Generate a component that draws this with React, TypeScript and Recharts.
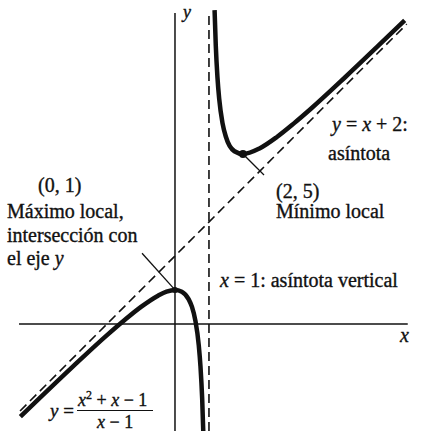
import { LineChart, Line, XAxis, YAxis, ReferenceLine, ReferenceDot } from 'recharts'

// points: branch left of x = 1
const leftX = [-4.55, -4, -3, -2, -1.5, -1, -0.5, -0.25, 0, 0.2, 0.4, 0.5, 0.6, 0.7, 0.75, 0.8, 0.84]
const leftY = [-2.73, -2.2, -1.25, -0.33, 0.1, 0.5, 0.83, 0.95, 1, 0.95, 0.73, 0.5, 0.1, -0.63, -1.25, -2.2, -3.41]

// branch right of x = 1
const rightX = [1.165, 1.2, 1.25, 1.3, 1.4, 1.5, 1.75, 2, 2.5, 3, 3.5, 4, 5, 6, 6.76]
const rightY = [9.23, 8.2, 7.25, 6.63, 5.9, 5.5, 5.08, 5, 5.17, 5.5, 5.9, 6.33, 7.25, 8.2, 8.93]

// marked points: local max and local min
const maxPoint = { x: 0, y: 1 }
const minPoint = { x: 2, y: 5 }

// asymptotes
const verticalAsymptote = 1
const slantSlope = 1
const slantIntercept = 2

const xDomain = [-5.15, 7.24]
const yDomain = [-3.15, 9.53]
const axisXRange = [-4.59, 6.85]
const axisYRange = [-3.15, 9.15]

const leftData = leftX.map((x, i) => ({ x, y: leftY[i] }))
const rightData = rightX.map((x, i) => ({ x, y: rightY[i] }))

const ink = '#111'
const serif = '"Times New Roman", "Liberation Serif", "DejaVu Serif", serif'

// html text placed by its baseline
function T({ x, y, size = 20, children }: { x: number; y: number; size?: number; children: any }) {
  return (
    <div
      style={{
        position: 'absolute',
        left: x,
        top: y - 0.8375 * size,
        fontFamily: serif,
        fontSize: size,
        lineHeight: `${size}px`,
        color: ink,
        whiteSpace: 'nowrap',
        WebkitTextStroke: '0.35px #111',
      }}
    >
      {children}
    </div>
  )
}

export default function App() {
  const slantStart = axisXRange[0] + 0.03
  const slantEnd = 6.82
  return (
    <div style={{ position: 'absolute', left: 0, top: 0, width: 421, height: 431, background: '#fff', fontFamily: serif }}>
      <LineChart width={421} height={431} margin={{ top: 0, right: 0, bottom: 0, left: 0 }}>
        <XAxis type="number" dataKey="x" domain={xDomain} allowDataOverflow hide />
        <YAxis type="number" dataKey="y" domain={yDomain} allowDataOverflow hide />

        {/* axes */}
        <ReferenceLine segment={[{ x: axisXRange[0], y: 0 }, { x: axisXRange[1], y: 0 }]} stroke={ink} strokeWidth={1.5} />
        <ReferenceLine segment={[{ x: 0, y: axisYRange[0] }, { x: 0, y: axisYRange[1] }]} stroke={ink} strokeWidth={1.5} />

        {/* asymptotes */}
        <ReferenceLine
          segment={[{ x: verticalAsymptote, y: axisYRange[0] }, { x: verticalAsymptote, y: axisYRange[1] }]}
          stroke={ink}
          strokeWidth={1.6}
          strokeDasharray="9 5"
        />
        <ReferenceLine
          segment={[
            { x: slantStart, y: slantSlope * slantStart + slantIntercept },
            { x: slantEnd, y: slantSlope * slantEnd + slantIntercept },
          ]}
          stroke={ink}
          strokeWidth={1.6}
          strokeDasharray="9 5"
        />

        {/* pointer lines */}
        <ReferenceLine segment={[{ x: -0.97, y: 2.08 }, { x: maxPoint.x, y: maxPoint.y }]} stroke={ink} strokeWidth={1.3} />
        <ReferenceLine segment={[{ x: minPoint.x, y: minPoint.y }, { x: 2.62, y: 4.38 }]} stroke={ink} strokeWidth={1.3} />

        <Line data={leftData} dataKey="y" type="monotone" stroke={ink} strokeWidth={4.5} dot={false} activeDot={false} isAnimationActive={false} />
        <Line data={rightData} dataKey="y" type="monotone" stroke={ink} strokeWidth={4.5} dot={false} activeDot={false} isAnimationActive={false} />

        <ReferenceDot x={maxPoint.x} y={maxPoint.y} r={3} fill={ink} stroke="none" />
        <ReferenceDot x={minPoint.x} y={minPoint.y} r={4} fill={ink} stroke="none" />
      </LineChart>

      {/* annotations */}
      <T x={183} y={18} size={18}><i>y</i></T>
      <T x={400} y={342}><i>x</i></T>

      <T x={38} y={192}>(0, 1)</T>
      <T x={7} y={218}>Máximo local,</T>
      <T x={7} y={242}>intersección con</T>
      <T x={7} y={265}>
        el eje <i>y</i>
      </T>

      <T x={332} y={131}>
        <i>y</i> = <i>x</i> + 2:
      </T>
      <T x={328} y={160}>asíntota</T>

      <T x={276} y={198}>(2, 5)</T>
      <T x={276} y={218}>Mínimo local</T>

      <T x={220} y={287}>
        <i>x</i> = 1: asíntota vertical
      </T>

      <T x={50} y={417} size={19}>
        <i>y</i> =
      </T>
      <T x={78} y={406} size={18}>
        <i>x</i>
        <span style={{ fontSize: 12, position: 'relative', top: -7 }}>2</span> + <i>x</i> − 1
      </T>
      <div style={{ position: 'absolute', left: 77, top: 410, width: 76, height: 1.4, background: ink }} />
      <T x={97} y={428} size={18}>
        <i>x</i> − 1
      </T>
    </div>
  )
}
